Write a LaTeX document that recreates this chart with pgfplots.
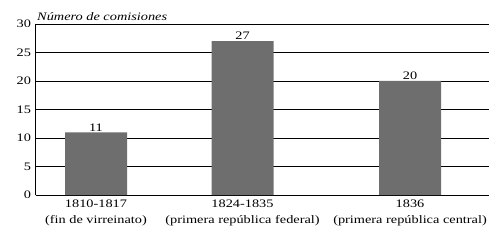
\documentclass[border=0pt]{standalone}
\usepackage{fontspec}
\setmainfont[FakeStretch=1.25]{Liberation Serif}
\usepackage{pgfplots}
\pgfplotsset{compat=1.18}
\definecolor{bargray}{HTML}{6E6E6E}
\begin{document}
\begin{tikzpicture}[x=1bp,y=1bp]
\path[use as bounding box] (0,0) rectangle (504,240);
\begin{axis}[
  at={(35.5bp,45bp)}, anchor=origin,
  x=1bp, y=5.7bp,
  xmin=35.5, xmax=489, ymin=0, ymax=30,
  axis lines*=left,
  axis line style={black, line width=0.8pt, -},
  ytick={0,5,...,30},
  ymajorgrids,
  grid style={black, line width=0.7pt},
  major tick length=0pt,
  xtick={96,242.5,410},
  xticklabels={{1810-1817\\(fin de virreinato)},{1824-1835\\(primera república federal)},{1836\\(primera república central)}},
  xticklabel style={align=center, font=\fontsize{11.5}{16}\selectfont, inner sep=0pt, yshift=-5bp},
  yticklabel style={font=\fontsize{11.5}{12}\selectfont, xshift=-1bp},
  /pgf/number format/assume math mode=true,
  clip=false,
  nodes near coords,
  nodes near coords style={font=\fontsize{11.5}{12}\selectfont, inner sep=1bp},
]
\addplot[ybar, bar width=62bp, fill=bargray, draw=none] coordinates {(96,11) (242.5,27) (410,20)};
\node[anchor=base west, font=\itshape\fontsize{11.5}{12}\selectfont, inner sep=0pt, yshift=3bp] at (axis cs:37,30) {Número de comisiones};
\end{axis}
\end{tikzpicture}
\end{document}
